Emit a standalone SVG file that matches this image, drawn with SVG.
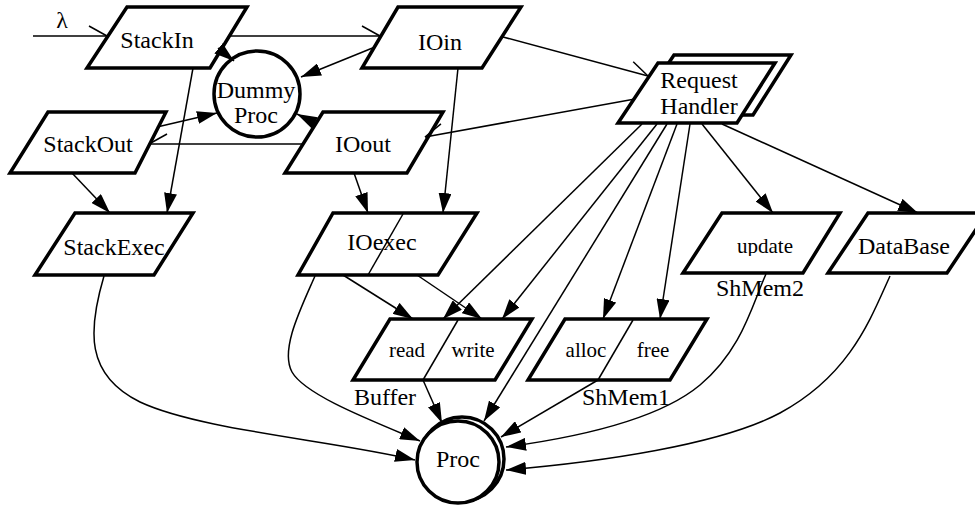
<svg xmlns="http://www.w3.org/2000/svg" width="975" height="505" viewBox="0 0 975 505">
  <style>
    .box { fill: #fff; stroke: #000; stroke-width: 3.5; stroke-linejoin: miter; }
    .div { fill: none; stroke: #000; stroke-width: 1.5; }
    .edge { fill: none; stroke: #000; stroke-width: 1.5; }
    .arr { marker-end: url(#arrow); }
    .hu { marker-end: url(#halfUp); }
    .hd { marker-end: url(#halfDown); }
    text { font-size: 24px; fill: #000; text-anchor: middle; }
    .small { font-size: 21px; }
  </style>
  <defs>
    <marker id="arrow" markerUnits="userSpaceOnUse" viewBox="0 0 20 13" refX="20" refY="6.5" markerWidth="20" markerHeight="13" orient="auto">
      <path d="M0,0 L20,6.5 L0,13 Z" fill="#000"/>
    </marker>
    <marker id="halfUp" markerUnits="userSpaceOnUse" viewBox="-2 -14 24 28" refX="20" refY="0" markerWidth="24" markerHeight="28" orient="auto">
      <path d="M20,0 L2,-10" fill="none" stroke="#000" stroke-width="1.5"/>
    </marker>
    <marker id="halfDown" markerUnits="userSpaceOnUse" viewBox="-2 -14 24 28" refX="20" refY="0" markerWidth="24" markerHeight="28" orient="auto">
      <path d="M20,0 L2,10" fill="none" stroke="#000" stroke-width="1.5"/>
    </marker>
    <clipPath id="updClip"><rect x="700" y="220" width="120" height="36"/></clipPath>
  </defs>

  <g font-family="Liberation Serif, DejaVu Serif, serif">
  <!-- external input -->
  <text x="62" y="28">λ</text>

  <g id="StackIn">
    <polygon class="box" points="127,7 247,7 210,68 87,68"/>
    <text x="157" y="48">StackIn</text>
  </g>
  <g id="IOin">
    <polygon class="box" points="398,7 521,7 482,68 362,68"/>
    <text x="440" y="50">IOin</text>
  </g>
  <g id="DummyProc">
    <circle class="box" cx="257" cy="94" r="43"/>
    <text x="256" y="98">Dummy</text>
    <text x="256" y="123">Proc</text>
  </g>
  <g id="RequestHandler">
    <polygon class="box" points="674,55 791,55 753,115 634,115"/>
    <polygon class="box" points="658,63 775,63 737,123 618,123"/>
    <text x="699" y="88">Request</text>
    <text x="699" y="114">Handler</text>
  </g>
  <g id="StackOut">
    <polygon class="box" points="48,112 166,112 135,173 10,173"/>
    <text x="88" y="152">StackOut</text>
  </g>
  <g id="IOout">
    <polygon class="box" points="323,112 443,112 407,173 285,173"/>
    <text x="363" y="152">IOout</text>
  </g>
  <g id="StackExec">
    <polygon class="box" points="75,213 193,213 154,275 35,275"/>
    <text x="114" y="255">StackExec</text>
  </g>
  <g id="IOexec">
    <polygon class="box" points="333,213 477,213 438,275 298,275"/>
    <line class="div" x1="403" y1="214" x2="368" y2="275"/>
    <text x="382" y="250">IOexec</text>
  </g>
  <g id="ShMem2">
    <polygon class="box" points="722,213 840,213 803,273 683,273"/>
    <text class="small" x="765" y="253" clip-path="url(#updClip)">update</text>
    <text x="760" y="296">ShMem2</text>
  </g>
  <g id="DataBase">
    <polygon class="box" points="868,213 987,213 947,273 828,273"/>
    <text x="904" y="254">DataBase</text>
  </g>
  <g id="Buffer">
    <polygon class="box" points="390,319 532,319 495,380 353,380"/>
    <line class="div" x1="458" y1="320" x2="423" y2="380"/>
    <text class="small" x="407" y="357">read</text>
    <text class="small" x="473" y="357">write</text>
    <text x="385" y="405">Buffer</text>
  </g>
  <g id="ShMem1">
    <polygon class="box" points="565,319 707,319 670,380 528,380"/>
    <line class="div" x1="633" y1="320" x2="598" y2="380"/>
    <text class="small" x="586" y="357">alloc</text>
    <text class="small" x="653" y="357">free</text>
    <text x="626" y="405">ShMem1</text>
  </g>
  <g id="Proc">
    <circle class="box" cx="462" cy="459" r="42"/>
    <circle class="box" cx="458" cy="462" r="41"/>
    <text x="458" y="467">Proc</text>
  </g>
  </g>

  <g id="connectors">
    <path class="edge hu" d="M33,36 H107"/>
    <path class="edge hu" d="M230,36 H380"/>
    <path class="edge arr" d="M218,48 L234,61"/>
    <path class="edge arr" d="M375,47 L301,77"/>
    <path class="edge arr" d="M157,127 L217,113"/>
    <path class="edge arr" d="M315,123 L297,114"/>
    <path class="edge hd" d="M303,144 H149"/>
    <path class="edge hu" d="M503,37 L648,76"/>
    <path class="edge hd" d="M635,99 L425,137"/>
    <path class="edge arr" d="M193,68 L167,213"/>
    <path class="edge arr" d="M72,173 L110,213"/>
    <path class="edge arr" d="M354,173 L368,213"/>
    <path class="edge arr" d="M458,68 L443,213"/>
    <path class="edge arr" d="M343,275 L413,319"/>
    <path class="edge arr" d="M417,275 L482,319"/>
    <path class="edge arr" d="M642,124 L443,319"/>
    <path class="edge arr" d="M657,124 L502,319"/>
    <path class="edge arr" d="M667,124 L484,421"/>
    <path class="edge arr" d="M677,124 L603,319"/>
    <path class="edge arr" d="M690,124 L660,319"/>
    <path class="edge arr" d="M702,124 L773,213"/>
    <path class="edge arr" d="M722,124 L918,213"/>
    <path class="edge arr" d="M104,276 C88,330 85,375 140,402 C200,430 330,440 415,460"/>
    <path class="edge arr" d="M315,276 C300,310 280,350 292,372 C305,395 370,420 420,441"/>
    <path class="edge arr" d="M423,380 L442,423"/>
    <path class="edge arr" d="M598,380 L501,437"/>
    <path class="edge arr" d="M766,274 C752,305 742,350 700,385 C658,420 580,437 506,447"/>
    <path class="edge arr" d="M890,276 C870,320 850,375 780,413 C720,445 600,462 506,470"/>
  </g>
</svg>
